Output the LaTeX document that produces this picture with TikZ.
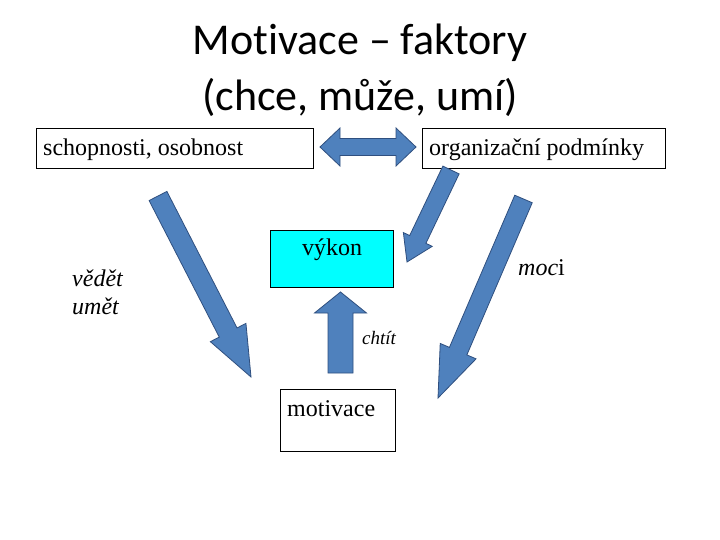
\documentclass[tikz,border=0pt]{standalone}
\usepackage{fontspec}
\setmainfont{Liberation Serif}
\newfontfamily\titlefont[Ligatures=NoCommon]{Carlito}
\usetikzlibrary{calc}
\definecolor{arrfill}{HTML}{4F81BD}
\definecolor{arrline}{HTML}{2F4F7F}
\definecolor{cyanbox}{HTML}{00FFFF}
\tikzset{
  fatarrow/.style={fill=arrfill,draw=arrline,line width=0.8pt,line join=miter},
  boxtext/.style={font=\fontsize{24}{28}\selectfont,anchor=west,inner sep=0pt},
  itext/.style={boxtext,font=\itshape\fontsize{24}{28}\selectfont},
  titletext/.style={font=\titlefont\fontsize{44}{52}\selectfont,inner sep=0pt}
}
% #1 tail, #2 tip, #3 half shaft width, #4 half head width, #5 head length (pt)
\newcommand{\fatarr}[5]{%
  \coordinate (hb) at ($(#2)!#5pt!(#1)$);
  \draw[fatarrow]
    ($(#1)!#3pt!90:(#2)$) -- ($(hb)!#3pt!90:(#2)$) -- ($(hb)!#4pt!90:(#2)$) -- (#2)
    -- ($(hb)!#4pt!-90:(#2)$) -- ($(hb)!#3pt!-90:(#2)$) -- ($(#1)!#3pt!-90:(#2)$) -- cycle;}
\begin{document}
\begin{tikzpicture}[x=1pt,y=-1pt]
\useasboundingbox (0,0) rectangle (720,540);
\fill[white] (0,0) rectangle (720,540);
% title
\node[titletext] (t1) at (360,43) {Motivace – faktory};
\node[titletext] (t2) at (360,97) {(chce, může, umí)};
% boxes
\draw[line width=0.8pt] (36,128) rectangle (313,168);
\node[boxtext] (schop) at (43,150) {schopnosti, osobnost};
\draw[line width=0.8pt] (422,128) rectangle (665,168);
\node[boxtext] (org) at (429,150) {organizační podmínky};
\draw[line width=0.8pt,fill=cyanbox] (270,230) rectangle (393,287);
\node[boxtext,anchor=center] (vykon) at (332,250) {výkon};
\draw[line width=0.8pt] (280,389) rectangle (395,451);
\node[boxtext] (motiv) at (287,409) {motivace};
% labels
\node[itext] (vedet) at (72,278) {vědět};
\node[itext] (umet) at (72,306) {umět};
\node[boxtext] (moci) at (518,268) {\textit{moc}i};
\node[boxtext,font=\itshape\fontsize{19}{22}\selectfont] (chtit) at (362,338) {chtít};
% arrow coordinates
\coordinate (dL) at (320,147);
\coordinate (dR) at (416,147);
\coordinate (aT) at (158,196);
\coordinate (aP) at (251,377);
\coordinate (bT) at (451,170);
\coordinate (bP) at (407,262);
\coordinate (cT) at (523.5,199);
\coordinate (cP) at (438,398);
\coordinate (uT) at (340.5,373);
\coordinate (uP) at (340.5,292);
% arrows
\draw[fatarrow] (dL) -- (340,128) -- (340,138.5) -- (396,138.5) -- (396,128) -- (dR)
  -- (396,166) -- (396,155.5) -- (340,155.5) -- (340,166) -- cycle;
\fatarr{aT}{aP}{10}{20}{50}
\fatarr{bT}{bP}{9}{16}{25}
\fatarr{cT}{cP}{9.5}{19.5}{51}
\fatarr{uT}{uP}{12.5}{26}{21}
\end{tikzpicture}
\end{document}
